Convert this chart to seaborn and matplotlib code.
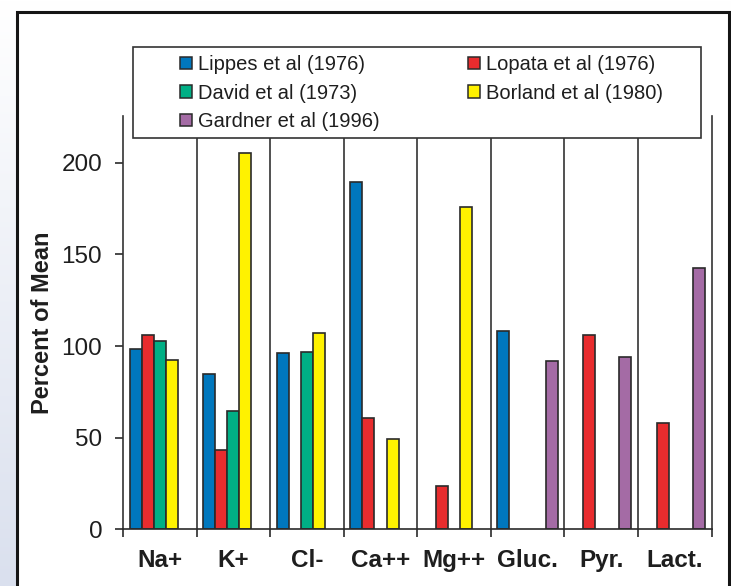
import numpy as np
import pandas as pd
import matplotlib
matplotlib.use("Agg")
import matplotlib.pyplot as plt
from matplotlib.patches import Patch, Rectangle
from matplotlib.colors import to_rgb
import seaborn as sns

# ion categories and the percent-of-mean value for each study (None = not measured)
ions = ["Na+", "K+", "Cl-", "Ca++", "Mg++", "Gluc.", "Pyr.", "Lact."]
studies = ["Lippes et al (1976)", "Lopata et al (1976)", "David et al (1973)",
           "Borland et al (1980)", "Gardner et al (1996)"]
lippes = [98.5, 85, 96, 189.5, None, 108, None, None]
lopata = [106, 43.5, None, 60.5, 23.5, None, 106, 58]
david = [102.5, 64.5, 97, None, None, None, None, None]
borland = [92.5, 205.5, 107, 49.5, 176, None, None, None]
gardner = [None, None, None, None, None, 92, 94, 142.5]
colors = ["#0077bd", "#e82c2e", "#00af85", "#fff200", "#a46ba5"]

series = [lippes, lopata, david, borland, gardner]
rows = []
for name, vals in zip(studies, series):
    for ion, v in zip(ions, vals):
        if v is not None:
            rows.append({"ion": ion, "study": name, "pct": v})
df = pd.DataFrame(rows)

sns.set_style("white")
plt.rcParams["font.family"] = ["Liberation Sans", "DejaVu Sans"]
dark = "#2a2a2a"

W, H = 731, 586
fig = plt.figure(figsize=(W / 100, H / 100), dpi=100)

# soft bluish background outside the frame
bg = fig.add_axes([0, 0, 1, 1], zorder=-5)
t = np.linspace(0, 1, 256)[:, None]
top, bot = np.array(to_rgb("#ffffff")), np.array(to_rgb("#dae0ee"))
grad = top[None, None, :] * (1 - t[..., None]) + bot[None, None, :] * t[..., None]
bg.imshow(grad, aspect="auto", extent=[0, 1, 0, 1])
bg.set_axis_off()

# black outer frame
fig.patches.append(Rectangle((16.5 / W, -0.1), (728.5 - 16.5) / W, 1.1 - 11.5 / H,
                             transform=fig.transFigure, facecolor="white",
                             edgecolor="#151515", lw=2.2, zorder=-1))

ax = fig.add_axes([123 / W, 1 - 529.3 / H, (711.5 - 123) / W, (529.3 - 116) / H])
sns.barplot(data=df, x="ion", y="pct", hue="study", order=ions, hue_order=studies,
            palette=colors, width=0.82, dodge=True, errorbar=None,
            edgecolor=dark, linewidth=1.2, saturation=1, legend=False, ax=ax)

ax.set_xlim(-0.5, len(ions) - 0.5)
ax.set_ylim(0, 225.5)
for b in np.arange(0.5, len(ions) - 0.5, 1):
    ax.axvline(b, color="#333333", lw=1.2, zorder=0)

for side in ["left", "right", "bottom"]:
    ax.spines[side].set_visible(True)
    ax.spines[side].set_color("#333333")
    ax.spines[side].set_linewidth(1.2)
ax.spines["top"].set_visible(False)
ax.spines["bottom"].set_color(dark)

ax.set_yticks([0, 50, 100, 150, 200])
ax.tick_params(axis="y", which="major", direction="out", length=6, width=1.2,
               color=dark, pad=9, labelsize=17.5, labelcolor="#1e1e1e", left=True)
ax.set_xticks(np.arange(-0.5, len(ions), 1), minor=True)
ax.tick_params(axis="x", which="minor", direction="out", length=6, width=1.2,
               color=dark, bottom=True)
ax.tick_params(axis="x", which="major", length=0, pad=14, labelsize=17.5,
               labelcolor="#1e1e1e")
for lab in ax.get_xticklabels():
    lab.set_fontweight("bold")

ax.set_xlabel("")
ax.set_ylabel("Percent of Mean", fontsize=17, fontweight="bold", color="#1e1e1e")
ax.yaxis.set_label_coords(-0.118, 0.5)

# legend box and entries
fig.patches.append(Rectangle((132.5 / W, 1 - 138 / H), (700.5 - 132.5) / W, (138 - 47) / H,
                             transform=fig.transFigure, facecolor="white",
                             edgecolor="#333333", lw=1.2, zorder=3))
handles = [Patch(facecolor=c, edgecolor=dark, lw=1.1) for c in colors]
order = [0, 2, 4, 1, 3]
fig.legend([handles[i] for i in order], [studies[i] for i in order],
           ncol=2, loc="upper left", bbox_to_anchor=(180 / W, 1 - 55 / H),
           bbox_transform=fig.transFigure, frameon=False, fontsize=14.5,
           handlelength=0.6, handleheight=0.55, handletextpad=0.3,
           labelspacing=0.48, columnspacing=4.4, borderpad=0, borderaxespad=0,
           labelcolor="#1e1e1e").set_zorder(4)

fig.savefig("out.png", dpi=100)
